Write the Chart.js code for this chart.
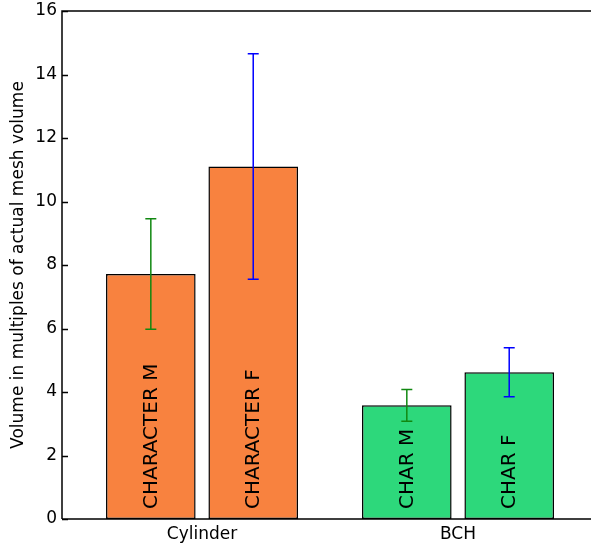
<!DOCTYPE html>
<html lang="en">
<head>
    <meta charset="UTF-8">
    <title>Volume chart</title>
    <script src="https://cdn.jsdelivr.net/npm/chart.js"></script>
    <style>
        body { margin: 0; background: #fff; }
        #chart { display: block; }
    </style>
</head>
<body>
    <canvas id="chart" width="591" height="547"></canvas>

    <script>
        // data
        const categories = ["Cylinder", "BCH"];
        const valuesM = [7.72, 3.58];
        const valuesF = [11.1, 4.62];
        const errM = [1.74, 0.5];
        const errF = [3.55, 0.77];
        const labelsM = ["CHARACTER M", "CHAR M"];
        const labelsF = ["CHARACTER F", "CHAR F"];
        const yTicks = [0, 2, 4, 6, 8, 10, 12, 14, 16];

        const catColors = ["#f8823f", "#2dd87b"];
        const errColors = { M: "#118811", F: "#0000ff" };

        Chart.defaults.font.family = "'DejaVu Sans', sans-serif";
        Chart.defaults.color = "#000";

        // one bar per (category, series), placed like matplotlib: i + offset
        const points = [], colors = [], errs = [], errCol = [], texts = [];
        categories.forEach((c, i) => {
            points.push({ x: i + 0.175, y: valuesM[i] });
            colors.push(catColors[i]); errs.push(errM[i]); errCol.push(errColors.M); texts.push(labelsM[i]);
            points.push({ x: i + 0.575, y: valuesF[i] });
            colors.push(catColors[i]); errs.push(errF[i]); errCol.push(errColors.F); texts.push(labelsF[i]);
        });

        const extras = {
            id: "extras",
            afterDatasetsDraw(chart) {
                const ctx = chart.ctx;
                const ys = chart.scales.y;
                const meta = chart.getDatasetMeta(0);
                meta.data.forEach((bar, i) => {
                    // rotated label inside bar
                    ctx.save();
                    ctx.translate(bar.x, bar.base - 10);
                    ctx.rotate(-Math.PI / 2);
                    ctx.font = "20px 'DejaVu Sans'";
                    ctx.fillStyle = "#000";
                    ctx.textAlign = "left";
                    ctx.textBaseline = "middle";
                    ctx.fillText(texts[i], 0, 1);
                    ctx.restore();

                    // error bar
                    const v = points[i].y;
                    const top = ys.getPixelForValue(v + errs[i]);
                    const bot = ys.getPixelForValue(v - errs[i]);
                    ctx.save();
                    ctx.strokeStyle = errCol[i];
                    ctx.lineWidth = 1.5;
                    ctx.beginPath();
                    ctx.moveTo(bar.x, top); ctx.lineTo(bar.x, bot);
                    ctx.moveTo(bar.x - 5.5, top); ctx.lineTo(bar.x + 5.5, top);
                    ctx.moveTo(bar.x - 5.5, bot); ctx.lineTo(bar.x + 5.5, bot);
                    ctx.stroke();
                    ctx.restore();
                });
            },
            afterDraw(chart) {
                const ctx = chart.ctx;
                const a = chart.chartArea;
                const ys = chart.scales.y;
                ctx.save();
                ctx.strokeStyle = "#000";
                ctx.lineWidth = 1.5;
                ctx.beginPath();
                ctx.moveTo(a.left, a.bottom); ctx.lineTo(a.left, a.top);
                ctx.lineTo(a.right, a.top);
                ctx.moveTo(a.left, a.bottom); ctx.lineTo(a.right, a.bottom);
                // inward y ticks
                yTicks.forEach(t => {
                    const py = Math.round(ys.getPixelForValue(t)) + 0.5;
                    ctx.moveTo(a.left, py); ctx.lineTo(a.left + 6, py);
                });
                ctx.stroke();
                ctx.restore();
            }
        };

        new Chart(document.getElementById("chart"), {
            type: "bar",
            data: {
                datasets: [{
                    data: points,
                    backgroundColor: colors,
                    borderColor: "#000",
                    borderWidth: 1.5,
                    borderSkipped: false,
                    barPercentage: 0.875,
                    categoryPercentage: 1
                }]
            },
            options: {
                responsive: false,
                animation: false,
                layout: { padding: { top: 11, right: 0, left: 0, bottom: 0 } },
                plugins: { legend: { display: false }, tooltip: { enabled: false } },
                scales: {
                    x: {
                        type: "linear",
                        offset: false,
                        min: -0.172,
                        max: 1.8945,
                        grid: { display: false, drawTicks: false },
                        border: { display: false },
                        afterBuildTicks: s => { s.ticks = categories.map((c, i) => ({ value: i + 0.375 })); },
                        afterFit: s => { s.height = 28; s.paddingLeft = 0; s.paddingRight = 0; },
                        ticks: {
                            font: { size: 17 },
                            padding: 5,
                            maxRotation: 0,
                            autoSkip: false,
                            callback: (v, i) => categories[i]
                        }
                    },
                    y: {
                        min: 0,
                        max: 16,
                        grid: { display: false, drawTicks: false },
                        border: { display: false },
                        afterBuildTicks: s => { s.ticks = yTicks.map(v => ({ value: v })); },
                        afterFit: s => { s.width = 62; s.paddingTop = 0; s.paddingBottom = 0; },
                        ticks: { font: { size: 17 }, padding: 5 },
                        title: {
                            display: true,
                            text: "Volume in multiples of actual mesh volume",
                            font: { size: 17 },
                            padding: { top: 8, bottom: 0 }
                        }
                    }
                }
            },
            plugins: [extras]
        });
    </script>
</body>
</html>
